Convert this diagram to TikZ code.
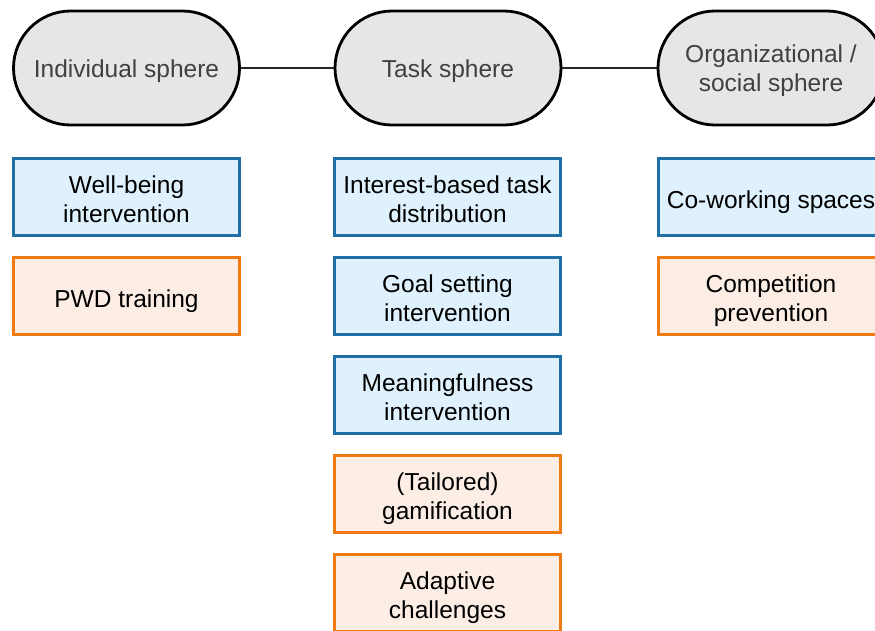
\documentclass[tikz,border=0pt]{standalone}
\usepackage{fontspec}
\setmainfont{Liberation Sans}
% centred stack of lines, lowered by the optional amount, with no height of its own
\newcommand\stacked[2][11.5pt]{\raisebox{-#1}[0pt][0pt]{\begin{tabular}{@{}c@{}}#2\end{tabular}}}
\begin{document}
\begin{tikzpicture}[x=1pt,y=-1pt,
  every node/.style={font=\fontsize{24.5}{29}\selectfont, inner sep=0pt},
  sphere/.style={draw=black, line width=2.8pt, fill=sphereFill, text=sphereText,
    rounded corners=57pt, minimum width=226pt, minimum height=114pt},
  bluebox/.style={draw=boxBlue, line width=3pt, fill=fillBlue, text=black,
    minimum width=226pt, minimum height=77pt},
  orangebox/.style={draw=boxOrange, line width=3pt, fill=fillOrange, text=black,
    minimum width=226pt, minimum height=77pt},
  link/.style={draw=black!85, line width=1.4pt}
]
\definecolor{sphereFill}{HTML}{E6E6E6}
\definecolor{sphereText}{HTML}{404040}
\definecolor{boxBlue}{HTML}{1F6EA6}
\definecolor{fillBlue}{HTML}{DEF1FC}
\definecolor{boxOrange}{HTML}{F07A12}
\definecolor{fillOrange}{HTML}{FCEEE5}
\useasboundingbox (0,0) rectangle (875,630);
\clip (0,0) rectangle (875,630);

% spheres
\node[sphere] (ind) at (126.5,68) {\stacked[9.8pt]{Individual sphere}};
\node[sphere] (task) at (448,68) {\stacked[9.8pt]{Task sphere}};
\node[sphere] (org) at (771,68) {\stacked[9.8pt]{Organizational /\\social sphere}};
\draw[link] (ind) -- (task);
\draw[link] (task) -- (org);

% individual sphere
\node[bluebox] (wb) at (126.5,197) {\stacked{Well-being\\intervention}};
\node[orangebox] (pwd) at (126.5,296) {\stacked{PWD training}};

% task sphere
\node[bluebox] (ibt) at (447.5,197) {\stacked{Interest-based task\\distribution}};
\node[bluebox] (goal) at (447.5,296) {\stacked{Goal setting\\intervention}};
\node[bluebox] (mean) at (447.5,395) {\stacked{Meaningfulness\\intervention}};
\node[orangebox] (gam) at (447.5,494) {\stacked{(Tailored)\\gamification}};
\node[orangebox] (adapt) at (447.5,593) {\stacked{Adaptive\\challenges}};

% organizational / social sphere
\node[bluebox] (cow) at (771,197) {\stacked{Co-working spaces}};
\node[orangebox] (comp) at (771,296) {\stacked{Competition\\prevention}};
\end{tikzpicture}
\end{document}
